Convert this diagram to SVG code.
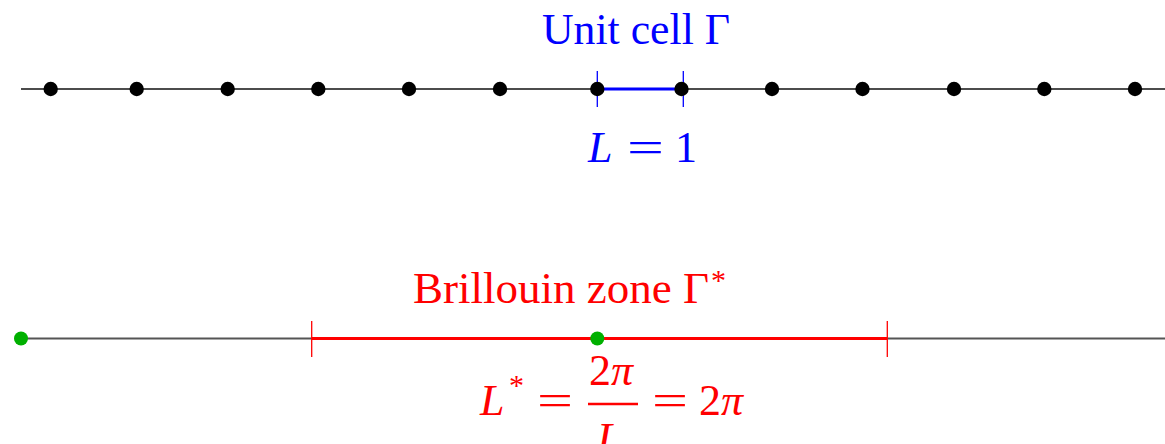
<svg xmlns="http://www.w3.org/2000/svg" width="1165" height="444" viewBox="0 0 1165 444">
<style>
.axis{stroke:#111;stroke-width:1.3;fill:none}
.axis2{stroke:#555;stroke-width:1.8;fill:none}
.dot{fill:#000}
.gdot{fill:#00b000}
.blue{fill:#0000ff}
.red{fill:#ff0000}
.t{font-family:"Liberation Serif","Times New Roman",serif;font-size:44px}
.it{font-style:italic}
.btick{stroke:#0000ff;stroke-width:1.3}
.rtick{stroke:#ff0000;stroke-width:1.3}
</style>
<rect width="1165" height="444" fill="#fff"/>
<g id="connectors">
<line class="axis" x1="21" y1="89" x2="1165" y2="89"/>
<line class="axis2" x1="21" y1="338.5" x2="1165" y2="338.5"/>
<line x1="597" y1="89" x2="683" y2="89" stroke="#0000ff" stroke-width="3"/>
<line x1="312" y1="338.5" x2="887" y2="338.5" stroke="#ff0000" stroke-width="3"/>
<line class="btick" x1="597.3" y1="71" x2="597.3" y2="107"/>
<line class="btick" x1="683.3" y1="71" x2="683.3" y2="107"/>
<line class="rtick" x1="311.7" y1="321" x2="311.7" y2="357"/>
<line class="rtick" x1="887.3" y1="321" x2="887.3" y2="357"/>
</g>
<g id="lattice">
<circle class="dot" cx="50.7" cy="89" r="7.2"/>
<circle class="dot" cx="136.7" cy="89" r="7.2"/>
<circle class="dot" cx="227.7" cy="89" r="7.2"/>
<circle class="dot" cx="318.3" cy="89" r="7.2"/>
<circle class="dot" cx="409" cy="89" r="7.2"/>
<circle class="dot" cx="500" cy="89" r="7.2"/>
<circle class="dot" cx="597.3" cy="89" r="7.2"/>
<circle class="dot" cx="681.5" cy="89" r="7.2"/>
<circle class="dot" cx="772" cy="89" r="7.2"/>
<circle class="dot" cx="862.5" cy="89" r="7.2"/>
<circle class="dot" cx="954" cy="89" r="7.2"/>
<circle class="dot" cx="1044.3" cy="89" r="7.2"/>
<circle class="dot" cx="1135" cy="89" r="7.2"/>
</g>
<g id="reciprocal">
<circle class="gdot" cx="21" cy="338.5" r="7"/>
<circle class="gdot" cx="597.3" cy="338.5" r="7"/>
</g>
<g id="unit-cell-label">
<text class="t blue" x="542" y="44" textLength="188" lengthAdjust="spacingAndGlyphs">Unit cell Γ</text>
<text class="t blue it" x="588" y="162">L</text>
<text class="t blue" x="627" y="162" textLength="37" lengthAdjust="spacingAndGlyphs">=</text>
<text class="t blue" x="675" y="162">1</text>
</g>
<g id="brillouin-label">
<text class="t red" x="413" y="303" textLength="296" lengthAdjust="spacingAndGlyphs">Brillouin zone Γ</text>
<text class="t red" x="711" y="290" style="font-size:30px">*</text>
<text class="t red it" x="480" y="415">L</text>
<text class="t red" x="509" y="395" style="font-size:30px">*</text>
<text class="t red" x="537" y="415" textLength="36" lengthAdjust="spacingAndGlyphs">=</text>
<text class="t red" x="589" y="385">2<tspan class="it">π</tspan></text>
<line x1="588" y1="404" x2="638" y2="404" stroke="#ff0000" stroke-width="2.5"/>
<text class="t red it" x="597" y="453">L</text>
<text class="t red" x="652" y="415" textLength="36" lengthAdjust="spacingAndGlyphs">=</text>
<text class="t red" x="699" y="415">2<tspan class="it">π</tspan></text>
</g>
</svg>
